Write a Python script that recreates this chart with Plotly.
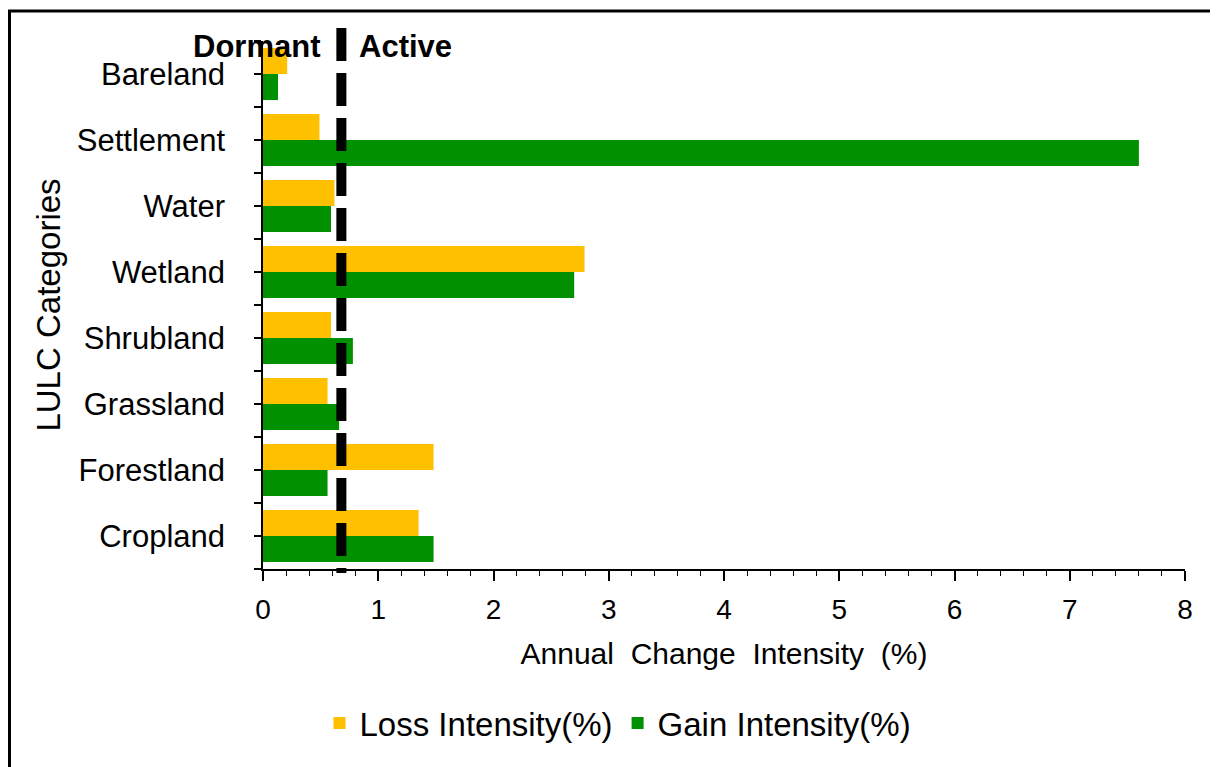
import plotly.graph_objects as go

categories = ["Bareland", "Settlement", "Water", "Wetland", "Shrubland", "Grassland", "Forestland", "Cropland"]
loss_intensity = [0.21, 0.49, 0.62, 2.79, 0.59, 0.56, 1.48, 1.35]
gain_intensity = [0.13, 7.60, 0.59, 2.70, 0.78, 0.66, 0.56, 1.48]
uniform_intensity = 0.68
x_ticks = [0, 1, 2, 3, 4, 5, 6, 7, 8]

positions = list(range(len(categories)))
FONT = "Arial, Liberation Sans, sans-serif"

OFF = 8  # page body margin
W, H = 1218 - OFF, 767 - OFF
PL, PR, PT, PB = 263, 1185, 41, 569  # plot area in page pixels
L, R, T, B = PL - OFF, 1218 - PR, PT - OFF, 767 - PB
pw, ph = PR - PL, PB - PT

def px_x(p):
    return (p - PL) / pw

def px_y(p):
    return (PB - p) / ph

fig = go.Figure()
fig.add_trace(go.Bar(y=positions, x=loss_intensity, orientation="h", name="Loss Intensity(%)",
                     marker=dict(color="#FFC000", line=dict(width=0))))
fig.add_trace(go.Bar(y=positions, x=gain_intensity, orientation="h", name="Gain Intensity(%)",
                     marker=dict(color="#009000", line=dict(width=0))))

fig.add_shape(type="line", xref="x", yref="paper", x0=uniform_intensity, x1=uniform_intensity,
              y0=px_y(28), y1=px_y(573), line=dict(color="black", width=10, dash="33px,12px"))

# outer frame
fig.add_shape(type="rect", xref="paper", yref="paper", x0=px_x(9.5), x1=px_x(1260),
              y0=px_y(820), y1=px_y(11), line=dict(color="black", width=3))

fig.add_annotation(x=uniform_intensity, y=px_y(47), xref="x", yref="paper", text="<b>Dormant</b>",
                   showarrow=False, xanchor="right", xshift=-19, yanchor="middle",
                   font=dict(family=FONT, size=31, color="black"))
fig.add_annotation(x=uniform_intensity, y=px_y(47), xref="x", yref="paper", text="<b>Active</b>",
                   showarrow=False, xanchor="left", xshift=16, yanchor="middle",
                   font=dict(family=FONT, size=31, color="black"))

fig.update_layout(
    width=W, height=H,
    margin=dict(l=L, r=R, t=T, b=B),
    paper_bgcolor="white", plot_bgcolor="white",
    barmode="group", bargap=0.21, bargroupgap=0,
    font=dict(family=FONT, color="black"),
    showlegend=True,
    legend=dict(orientation="h", x=px_x(618), xanchor="center", y=px_y(723), yanchor="middle",
                font=dict(family=FONT, size=33, color="black"), itemwidth=30),
)

fig.update_xaxes(
    range=[0, 8], tickvals=x_ticks, ticktext=[str(v) for v in x_ticks],
    showgrid=False, zeroline=False, showline=True, linecolor="black", linewidth=1.5,
    ticks="outside", ticklen=10, tickwidth=1.5, tickcolor="black",
    minor=dict(dtick=0.2, ticks="outside", ticklen=5, tickwidth=1.2, tickcolor="black", showgrid=False),
    tickfont=dict(family=FONT, size=28, color="black"), ticklabelstandoff=5,
    title=dict(text="Annual\u00a0 Change\u00a0 Intensity\u00a0 (%)", standoff=19,
               font=dict(family=FONT, size=30, color="black")),
)

fig.update_yaxes(
    range=[len(categories) - 0.5, -0.5], tickvals=positions, ticktext=categories,
    showgrid=False, zeroline=False, showline=True, linecolor="black", linewidth=1.5,
    ticks="outside", ticklen=7, tickwidth=1.5, tickcolor="black",
    minor=dict(tick0=0.5, dtick=1, ticks="outside", ticklen=7, tickwidth=1.5, tickcolor="black", showgrid=False),
    tickfont=dict(family=FONT, size=31, color="black"), ticklabelstandoff=23,
    title=dict(text="LULC Categories", standoff=6, font=dict(family=FONT, size=33, color="black")),
)

fig.write_html("out.html")
